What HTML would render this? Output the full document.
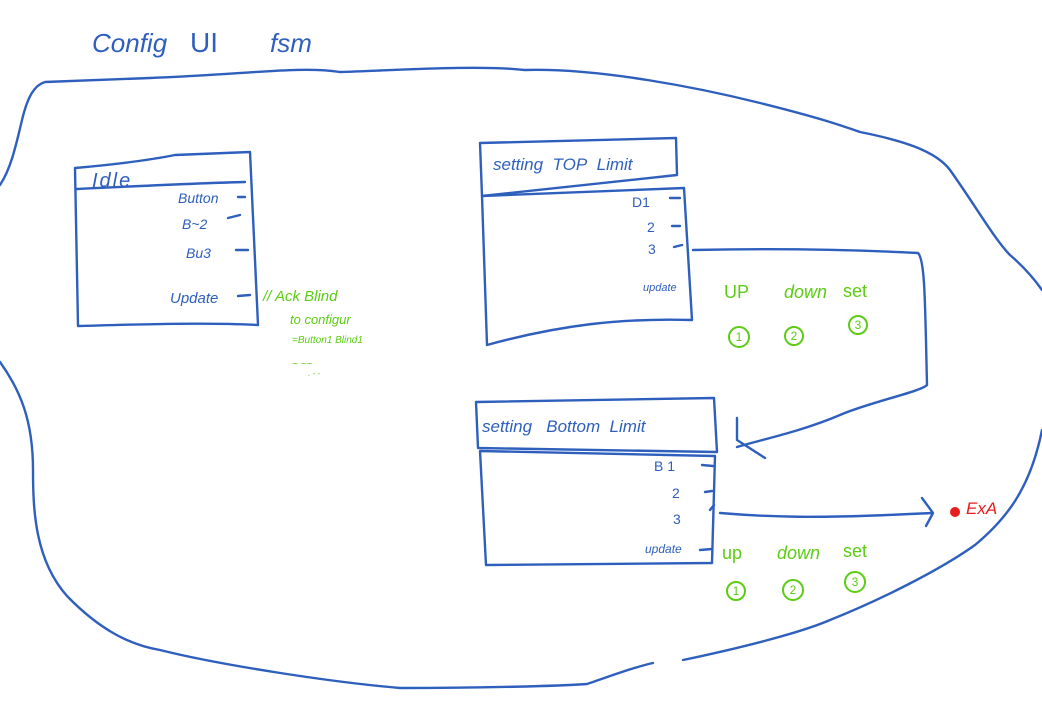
<!DOCTYPE html>
<html><head><meta charset="utf-8"><style>
html,body{margin:0;padding:0;background:#fff;}
svg{display:block;}
text{font-family:"Liberation Sans",sans-serif;}
.b{fill:#2f5fbd;}
.g{fill:#5ccc14;}
</style></head><body>
<svg width="1042" height="711" viewBox="0 0 1042 711" xmlns="http://www.w3.org/2000/svg">
<g fill="none" stroke="#2f5fbd" stroke-width="2.4" stroke-linecap="round" stroke-linejoin="round">
<path d="M0,185 C10,170 15,150 22,120 C28,95 35,85 45,82 L150,78 C250,74 300,66 340,72"/>
<path d="M340,72 C400,70 480,65 525,70 C600,68 700,88 760,103 C820,118 840,125 860,132 C900,140 935,150 950,170 C975,205 995,240 1010,255 C1025,268 1035,280 1042,290"/>
<path d="M0,362 C20,390 33,420 33,470 C33,510 35,560 67,596 C100,630 130,645 160,650 C220,665 330,682 400,688 C480,688 560,686 587,684 C600,680 630,668 653,663"/>
<path d="M683,660 C740,648 800,633 830,620 C880,600 940,570 975,545 C1005,520 1030,490 1042,430"/>
<path d="M75,168 C120,164 150,160 175,155 L250,152 L258,325 C200,322 120,325 78,326 Z"/>
<path d="M77,189 C140,186 200,183 245,182"/>
<path d="M238,197 L245,197 M228,218 L240,215 M236,250 L248,250 M238,296 L250,295"/>
<path d="M480,143 L676,138 L677,175 L482,196 Z"/>
<path d="M482,196 L684,188 L692,320 C620,318 560,325 487,345 Z"/>
<path d="M670,198 L680,198 M672,226 L680,226 M674,247 L682,245"/>
<path d="M693,250 C780,248 860,250 918,253 C925,260 925,300 927,385 C920,392 870,402 840,415 C800,432 760,440 737,447"/>
<path d="M737,418 L737,440 L765,458"/>
<path d="M476,402 L714,398 L717,452 L478,448 Z"/>
<path d="M480,451 L715,456 L712,563 L486,565 Z"/>
<path d="M702,465 L713,466 M705,492 L712,491 M710,510 L714,505 M700,550 L712,549"/>
<path d="M720,513 C780,518 820,517 860,516 C890,515 910,514 932,513"/>
<path d="M922,498 L933,513 L926,526"/>
</g>
<circle cx="955" cy="512" r="5" fill="#e81e1e"/>
<text x="966" y="514" font-size="17" fill="#e81e1e" font-style="italic">ExA</text>
<text x="92" y="52" font-size="26" class="b" font-style="italic">Config</text>
<text x="190" y="52" font-size="28" class="b">UI</text>
<text x="270" y="52" font-size="26" class="b" font-style="italic">fsm</text>
<text x="92" y="187" font-size="20" class="b" font-style="italic" letter-spacing="2">Idle</text>
<text x="178" y="203" font-size="14" class="b" font-style="italic">Button</text>
<text x="182" y="229" font-size="14" class="b" font-style="italic">B~2</text>
<text x="186" y="258" font-size="14" class="b" font-style="italic">Bu3</text>
<text x="170" y="303" font-size="15" class="b" font-style="italic">Update</text>
<g class="g" font-style="italic">
<text x="263" y="301" font-size="15">// Ack Blind</text>
<text x="290" y="324" font-size="13">to configur</text>
<text x="292" y="343" font-size="10">=Button1 Blind1</text>
<text x="292" y="367" font-size="10">~ ~~</text>
<text x="308" y="376" font-size="8">. - -</text>
</g>
<text x="493" y="170" font-size="17" class="b" font-style="italic">setting&#160; TOP&#160; Limit</text>
<text x="632" y="207" font-size="14" class="b">D1</text>
<text x="647" y="232" font-size="14" class="b">2</text>
<text x="648" y="254" font-size="14" class="b">3</text>
<text x="643" y="291" font-size="11" class="b" font-style="italic">update</text>
<text x="482" y="432" font-size="17" class="b" font-style="italic">setting&#160;&#160; Bottom&#160; Limit</text>
<text x="654" y="471" font-size="14" class="b">B 1</text>
<text x="672" y="498" font-size="14" class="b">2</text>
<text x="673" y="524" font-size="14" class="b">3</text>
<text x="645" y="553" font-size="12" class="b" font-style="italic">update</text>
<g class="g" font-size="18">
<text x="724" y="298">UP</text>
<text x="784" y="298" font-style="italic">down</text>
<text x="843" y="297">set</text>
<text x="722" y="559">up</text>
<text x="777" y="559" font-style="italic">down</text>
<text x="843" y="557">set</text>
</g>
<g fill="none" stroke="#5ccc14" stroke-width="2">
<circle cx="739" cy="337" r="10"/><circle cx="794" cy="336" r="9"/><circle cx="858" cy="325" r="9"/>
<circle cx="736" cy="591" r="9"/><circle cx="793" cy="590" r="10"/><circle cx="855" cy="582" r="10"/>
</g>
<g class="g" font-size="12" text-anchor="middle">
<text x="739" y="341">1</text><text x="794" y="340">2</text><text x="858" y="329">3</text>
<text x="736" y="595">1</text><text x="793" y="594">2</text><text x="855" y="586">3</text>
</g>
</svg>
</body></html>
